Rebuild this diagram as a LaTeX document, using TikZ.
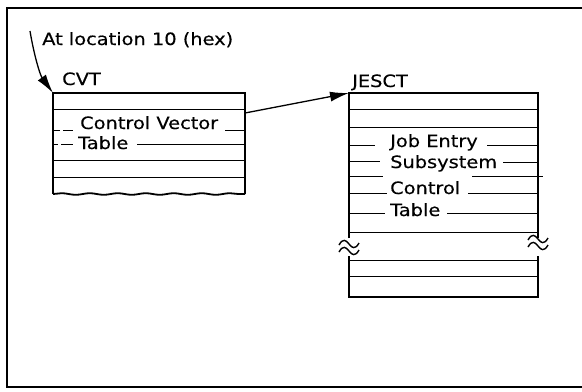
\documentclass[tikz,border=0pt]{standalone}
\usepackage{fontspec}
\setmainfont{DejaVu Sans}
\newfontfamily\lblfont[FakeStretch=1.14,FakeBold=0.4]{DejaVu Sans}
\usetikzlibrary{arrows.meta,decorations.pathmorphing}
\newcommand\tld[2]{\draw[tilde] (#1-10,#2+1) .. controls (#1-6,#2-6) and (#1-3,#2-4) .. (#1,#2) .. controls (#1+3,#2+4) and (#1+6,#2+6) .. (#1+10,#2-1);}
\begin{document}
\begin{tikzpicture}[x=1bp,y=-1bp,
  edge/.style={line width=1.8bp},
  rowline/.style={line width=1bp},
  lbl/.style={anchor=base west, inner sep=0pt, font=\lblfont\fontsize{17bp}{20bp}\selectfont},
  ptr/.style={line width=1.3bp, -{Latex[length=19bp,width=10bp]}},
  tilde/.style={line width=1.4bp}]
\useasboundingbox (0,0) rectangle (582,391);
% frame
\draw[edge] (582,8) -- (7,8) -- (7,387) -- (582,387);
% title
\node[lbl] (loc) at (42,45) {At location 10 (hex)};
\coordinate (locstart) at (30,31);
% CVT
\node[lbl] (cvt) at (62,85) {CVT};
\coordinate (cvtNW) at (53,93);
\coordinate (cvtE) at (245,113);
\draw[edge] (53,194) -- (53,93) -- (245,93) -- (245,194);
\draw[edge, decorate, decoration={snake,amplitude=0.8bp,segment length=28bp}] (53,194) -- (245,194);
\draw[rowline] (53,109) -- (245,109);
\draw[rowline] (53,160) -- (245,160);
\draw[rowline] (53,177) -- (245,177);
\node[lbl] (cv) at (80,129) {Control Vector};
\draw[rowline] (53,130) -- (60,130) (63,130) -- (73,130) (225,130) -- (245,130);
\node[lbl] (tb1) at (78,149) {Table};
\draw[rowline] (53,144) -- (58,144) (61,144) -- (73,144) (137,144) -- (245,144);
% JESCT
\node[lbl] (jes) at (352,87) {JESCT};
\coordinate (jesNW) at (349,93);
\draw[edge] (349,238) -- (349,93) -- (538,93) -- (538,238);
\draw[edge] (349,256) -- (349,297) -- (538,297) -- (538,256);
\foreach \yy in {109,127,232,260,276} \draw[rowline] (349,\yy) -- (538,\yy);
\node[lbl] (je) at (390,147) {Job Entry};
\draw[rowline] (349,145) -- (375,145) (487,145) -- (538,145);
\node[lbl] (ss) at (390,168) {Subsystem};
\draw[rowline] (349,161) -- (380,161) (503,162) -- (538,162);
\draw[rowline] (349,176) -- (383,176) (472,176) -- (543,176);
\node[lbl] (ct) at (390,194) {Control};
\draw[rowline] (349,193) -- (387,193) (468,193) -- (538,193);
\node[lbl] (tb2) at (390,216) {Table};
\draw[rowline] (349,213) -- (385,213) (447,213) -- (538,213);
\tld{349}{244}
\tld{349}{251}
\tld{538}{239}
\tld{538}{246}
% pointers
\draw[ptr] (locstart) .. controls (34,55) and (40,75) .. (cvtNW);
\draw[ptr] (cvtE) -- (jesNW);
\end{tikzpicture}
\end{document}
